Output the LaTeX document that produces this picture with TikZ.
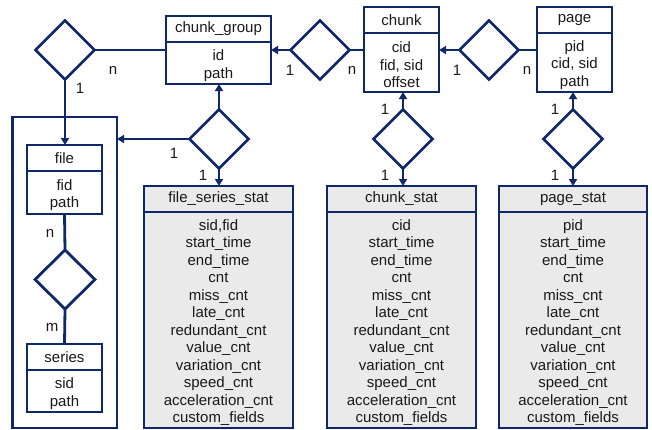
\documentclass[tikz,border=0pt]{standalone}
\usepackage{fontspec}
\setmainfont{Liberation Sans}
\usetikzlibrary{shapes.geometric,arrows.meta}
\definecolor{navy}{RGB}{14,40,105}
\definecolor{statfill}{RGB}{234,234,234}
\begin{document}
\begin{tikzpicture}[x=1pt,y=-1pt,
  every node/.style={font=\fontsize{15}{17.5}\selectfont, text=black!90},
  ent/.style={draw=navy, line width=2.8pt, fill=white, inner sep=0pt, outer sep=0pt, align=center, anchor=north},
  statent/.style={ent, fill=statfill},
  txt/.style={inner sep=0pt, align=center, yshift=-2.5pt},
  rel/.style={draw=navy, line width=2.8pt, diamond, minimum width=59pt, minimum height=59pt, inner sep=0pt, outer sep=0pt, fill=white},
  conn/.style={draw=navy, line width=2.8pt},
  arr/.style={conn, -{Triangle[width=8pt,length=7pt]}},
  card/.style={inner sep=0pt}
]
\useasboundingbox (0,0) rectangle (652,429);

% outer group rectangle
\node[draw=navy, line width=2.8pt, minimum width=104.5pt, minimum height=311pt, inner sep=0pt, outer sep=0pt] (grp) at (64.75,272.5) {};

% chunk_group
\node[ent, minimum width=105pt, minimum height=26pt] (cg) at (218.5,16) {chunk\_group};
\node[ent, minimum width=105pt, minimum height=42pt] (cgb) at (cg.south) {};
\node[txt] (cgt) at (cgb.center) {id\\path};
% chunk
\node[ent, minimum width=75pt, minimum height=26pt] (ch) at (401.5,7) {chunk};
\node[ent, minimum width=75pt, minimum height=59pt] (chb) at (ch.south) {};
\node[txt] (cht) at (chb.center) {cid\\fid, sid\\offset};
% page
\node[ent, minimum width=75pt, minimum height=26pt] (pg) at (574.5,7) {page};
\node[ent, minimum width=75pt, minimum height=59pt] (pgb) at (pg.south) {};
\node[txt] (pgt) at (pgb.center) {pid\\cid, sid\\path};
% file
\node[ent, minimum width=75pt, minimum height=26pt] (fi) at (64.5,145) {file};
\node[ent, minimum width=75pt, minimum height=43pt] (fib) at (fi.south) {};
\node[txt] (fit) at (fib.center) {fid\\path};
% series
\node[ent, minimum width=75pt, minimum height=26pt] (se) at (64.5,344) {series};
\node[ent, minimum width=75pt, minimum height=42pt] (seb) at (se.south) {};
\node[txt] (set) at (seb.center) {sid\\path};

% stat tables
\node[statent, minimum width=149pt, minimum height=26pt] (fs) at (218.5,186) {file\_series\_stat};
\node[statent, minimum width=149pt, minimum height=216pt] (fsb) at (fs.south) {};
\node[txt] (fst) at (fsb.center) {sid,fid\\start\_time\\end\_time\\cnt\\miss\_cnt\\late\_cnt\\redundant\_cnt\\value\_cnt\\variation\_cnt\\speed\_cnt\\acceleration\_cnt\\custom\_fields};
\node[statent, minimum width=149pt, minimum height=26pt] (cs) at (401.5,186) {chunk\_stat};
\node[statent, minimum width=149pt, minimum height=216pt] (csb) at (cs.south) {};
\node[txt] (cst) at (csb.center) {cid\\start\_time\\end\_time\\cnt\\miss\_cnt\\late\_cnt\\redundant\_cnt\\value\_cnt\\variation\_cnt\\speed\_cnt\\acceleration\_cnt\\custom\_fields};
\node[statent, minimum width=148pt, minimum height=26pt] (ps) at (573,186) {page\_stat};
\node[statent, minimum width=148pt, minimum height=216pt] (psb) at (ps.south) {};
\node[txt] (pst) at (psb.center) {pid\\start\_time\\end\_time\\cnt\\miss\_cnt\\late\_cnt\\redundant\_cnt\\value\_cnt\\variation\_cnt\\speed\_cnt\\acceleration\_cnt\\custom\_fields};

% relationships
\node[rel] (d1) at (65,50) {};
\node[rel] (d2) at (219,139) {};
\node[rel] (d3) at (320,50) {};
\node[rel] (d4) at (489,50) {};
\node[rel] (d5) at (403,139) {};
\node[rel] (d6) at (573,139) {};
\node[rel, minimum width=60pt] (d7) at (65,279.5) {};

% connectors
\draw[conn] (d1.east) -- (d1.east -| cgb.west);
\draw[arr] (d1.south) -- (d1.south |- fi.north);
\draw[arr] (d2.north) -- (d2.north |- cgb.south);
\draw[arr] (d2.west) -- (d2.west -| grp.east);
\draw[arr] (d2.south) -- (d2.south |- fs.north);
\draw[arr] (d3.west) -- (d3.west -| cgb.east);
\draw[conn] (d3.east) -- (d3.east -| chb.west);
\draw[arr] (d4.west) -- (d4.west -| chb.east);
\draw[conn] (d4.east) -- (d4.east -| pgb.west);
\draw[arr] (d5.north) -- (d5.north |- chb.south);
\draw[arr] (d5.south) -- (d5.south |- cs.north);
\draw[arr] (d6.north) -- (d6.north |- pgb.south);
\draw[arr] (d6.south) -- (d6.south |- ps.north);
\draw[conn] (fib.south) -- (d7.north);
\draw[conn] (d7.south) -- (se.north);

% cardinalities
\node[card] (c1) at (113,70) {n};
\node[card] (c2) at (80,88) {1};
\node[card] (c3) at (290,70) {1};
\node[card] (c4) at (352,70) {n};
\node[card] (c5) at (457,70) {1};
\node[card] (c6) at (527,70) {n};
\node[card] (c7) at (174,153) {1};
\node[card] (c8) at (203,175) {1};
\node[card] (c9) at (385,109) {1};
\node[card] (c10) at (385,175) {1};
\node[card] (c11) at (555,109) {1};
\node[card] (c12) at (555,175) {1};
\node[card] (c13) at (50,233) {n};
\node[card] (c14) at (52,327) {m};
\end{tikzpicture}
\end{document}
